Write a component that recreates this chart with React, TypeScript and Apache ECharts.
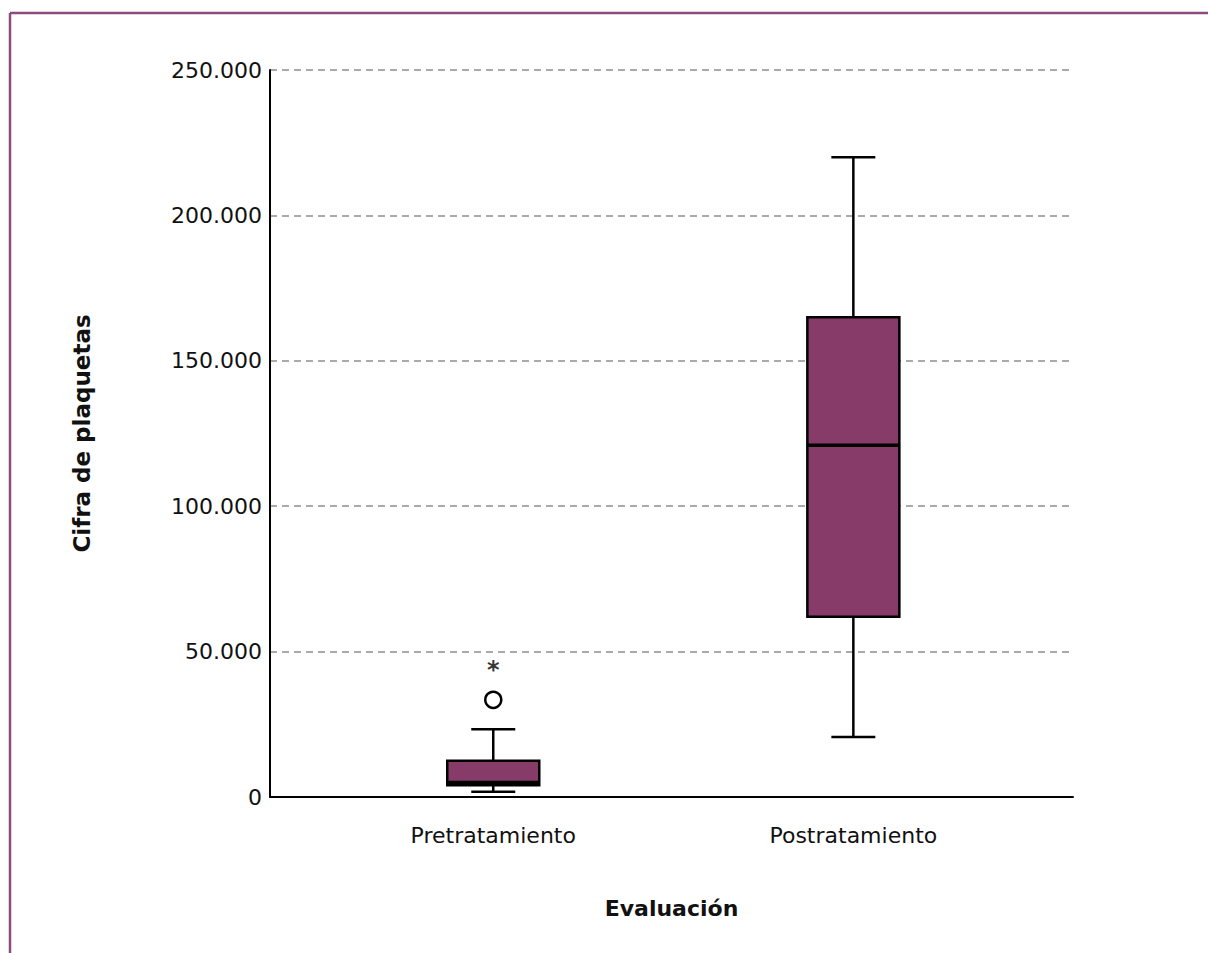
import React, { useEffect, useRef } from "react";
import * as echarts from "echarts";

const categories = ["Pretratamiento", "Postratamiento"];
const positions = [1, 2];
const whiskerLow = [1800, 20600];
const q1 = [4000, 62000];
const median = [5000, 121000];
const q3 = [12500, 165000];
const whiskerHigh = [23300, 220000];
const outliers = [[1, 33400]];
const extremes = [[1, 44700]];
const yTicks = [0, 50000, 100000, 150000, 200000, 250000];

const FONT = "DejaVu Sans";
const BOX_FILL = "#873b68";
const FRAME = "#8e4b7d";

function fmt(v: number): string {
  return String(Math.round(v)).replace(/\B(?=(\d{3})+(?!\d))/g, ".");
}

export default function App() {
  const ref = useRef<HTMLDivElement>(null);
  useEffect(() => {
    if (!ref.current) return;
    const chart = echarts.init(ref.current, null, { renderer: "svg" });
    const boxData = positions.map((p, i) => [p, whiskerLow[i], q1[i], median[i], q3[i], whiskerHigh[i]]);
    const BOX_HALF = 46;
    const CAP_HALF = 22;
    chart.setOption({
      animation: false,
      backgroundColor: "#fff",
      textStyle: { fontFamily: FONT },
      graphic: [
        { type: "line", shape: { x1: 10, y1: 13, x2: 1208, y2: 13 }, style: { stroke: FRAME, lineWidth: 2.5 } },
        { type: "line", shape: { x1: 10, y1: 13, x2: 10, y2: 953 }, style: { stroke: FRAME, lineWidth: 2.5 } },
      ],
      grid: { left: 270, right: 135, top: 70, bottom: 156 },
      xAxis: {
        type: "value",
        min: 0.38,
        max: 2.61,
        splitLine: { show: false },
        axisTick: { show: false },
        axisLine: { show: true, lineStyle: { color: "#000", width: 2 } },
        axisLabel: {
          customValues: positions,
          formatter: (v: number) => categories[positions.indexOf(Math.round(v))] ?? "",
          fontSize: 22,
          color: "#111",
          margin: 27,
          fontFamily: FONT,
        },
        name: "Evaluación",
        nameLocation: "middle",
        nameGap: 100,
        nameTextStyle: { fontSize: 22, fontWeight: "bold", color: "#111", fontFamily: FONT },
      },
      yAxis: {
        type: "value",
        min: 0,
        max: 250000,
        interval: 50000,
        axisLine: { show: true, lineStyle: { color: "#000", width: 2 } },
        axisTick: { show: false },
        splitLine: { show: true, lineStyle: { color: "#aaaaaa", width: 2, type: [7, 5] } },
        axisLabel: {
          formatter: (v: number) => (yTicks.includes(v) ? fmt(v) : ""),
          fontSize: 22,
          color: "#111",
          margin: 8,
          fontFamily: FONT,
        },
        name: "Cifra de plaquetas",
        nameLocation: "middle",
        nameRotate: 90,
        nameGap: 177,
        nameTextStyle: { fontSize: 23, fontWeight: "bold", color: "#111", fontFamily: FONT },
      },
      series: [
        {
          type: "custom",
          data: boxData,
          encode: { x: 0, y: [1, 2, 3, 4, 5] },
          z: 3,
          renderItem: (params: any, api: any) => {
            const x = api.value(0);
            const pLow = api.coord([x, api.value(1)]);
            const pQ1 = api.coord([x, api.value(2)]);
            const pMed = api.coord([x, api.value(3)]);
            const pQ3 = api.coord([x, api.value(4)]);
            const pHigh = api.coord([x, api.value(5)]);
            const cx = pLow[0];
            const ls = { stroke: "#000", lineWidth: 2.5 };
            return {
              type: "group",
              children: [
                { type: "line", shape: { x1: cx, y1: pHigh[1], x2: cx, y2: pQ3[1] }, style: ls },
                { type: "line", shape: { x1: cx, y1: pQ1[1], x2: cx, y2: pLow[1] }, style: ls },
                { type: "line", shape: { x1: cx - CAP_HALF, y1: pHigh[1], x2: cx + CAP_HALF, y2: pHigh[1] }, style: ls },
                { type: "line", shape: { x1: cx - CAP_HALF, y1: pLow[1], x2: cx + CAP_HALF, y2: pLow[1] }, style: ls },
                {
                  type: "rect",
                  shape: { x: cx - BOX_HALF, y: pQ3[1], width: BOX_HALF * 2, height: pQ1[1] - pQ3[1] },
                  style: { fill: BOX_FILL, stroke: "#000", lineWidth: 2.5 },
                },
                { type: "line", shape: { x1: cx - BOX_HALF, y1: pMed[1], x2: cx + BOX_HALF, y2: pMed[1] }, style: { stroke: "#000", lineWidth: 3.5 } },
              ],
            };
          },
        },
        {
          type: "scatter",
          data: outliers,
          symbol: "circle",
          symbolSize: 16,
          z: 4,
          itemStyle: { color: "#fff", borderColor: "#000", borderWidth: 2.5, opacity: 1 },
        },
        {
          type: "scatter",
          data: extremes,
          symbol: "circle",
          symbolSize: 1,
          z: 4,
          itemStyle: { color: "rgba(0,0,0,0)" },
          label: {
            show: true,
            position: "inside",
            formatter: "*",
            fontSize: 24,
            fontWeight: "bold",
            color: "#000",
            offset: [0, 3],
            fontFamily: FONT,
          },
        },
      ],
    });
    return () => chart.dispose();
  }, []);
  return (
    <div
      ref={ref}
      style={{ position: "absolute", left: 0, top: 0, width: 1208, height: 953, background: "#fff" }}
    />
  );
}
